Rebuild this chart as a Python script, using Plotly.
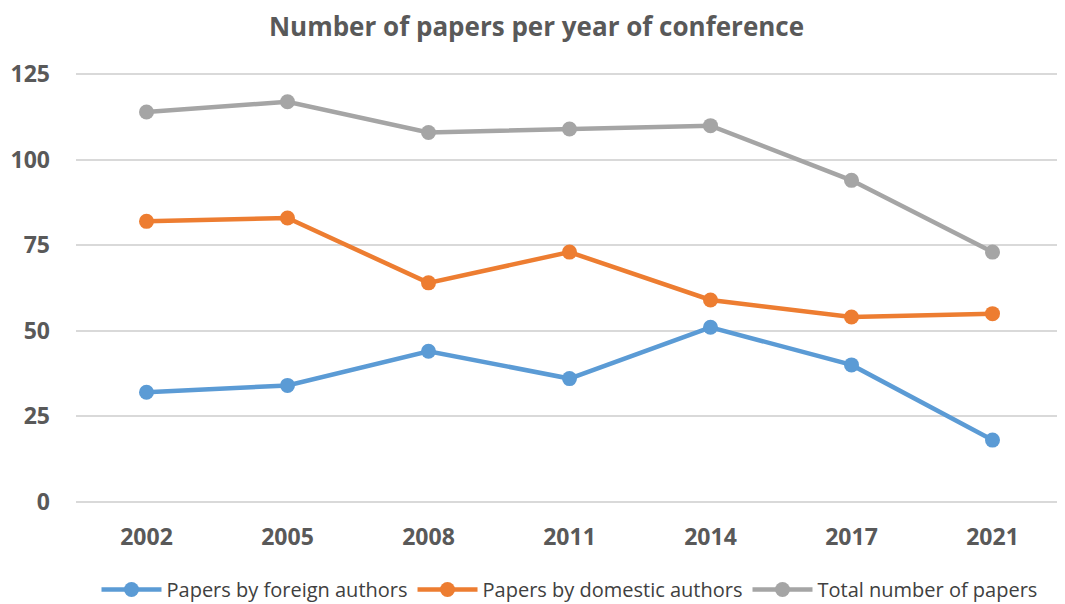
import plotly.graph_objects as go

years = ["2002", "2005", "2008", "2011", "2014", "2017", "2021"]
foreign = [32, 34, 44, 36, 51, 40, 18]
domestic = [82, 83, 64, 73, 59, 54, 55]
total = [114, 117, 108, 109, 110, 94, 73]

series = [
    ("Papers by foreign authors", foreign, "#5B9BD5"),
    ("Papers by domestic authors", domestic, "#ED7D31"),
    ("Total number of papers", total, "#A5A5A5"),
]

fig = go.Figure()
for name, vals, color in series:
    fig.add_trace(go.Scatter(
        x=years, y=vals, name=name, mode="lines+markers",
        line=dict(color=color, width=4.5),
        marker=dict(color=color, size=15),
    ))

# page has an 8px body margin; figure sized so it fits the 1065x604 window
fig.update_layout(
    width=1057, height=596,
    paper_bgcolor="white", plot_bgcolor="white",
    margin=dict(l=68, r=2, t=65, b=101, autoexpand=False),
    title=dict(text="<b>Number of papers per year of conference</b>", x=0.5, xanchor="center",
               y=0.968, yanchor="middle", automargin=False,
               font=dict(family="Open Sans", size=26, color="#595959")),
    font=dict(family="Open Sans", color="#595959"),
    xaxis=dict(type="category", range=[-0.5, 6.5], showgrid=False, showline=False,
               automargin=False,
               tickfont=dict(size=23, color="#595959", weight="bold"), ticks="",
               ticklabelstandoff=18),
    yaxis=dict(range=[-0.4, 125.4], tickvals=[0, 25, 50, 75, 100, 125], showgrid=True,
               automargin=False,
               gridcolor="#D9D9D9", gridwidth=1.5, zeroline=False, showline=False,
               tickfont=dict(size=23, color="#595959", weight="bold"),
               ticklabelstandoff=25),
    legend=dict(orientation="h", x=0.5, xanchor="center", y=-0.201, yanchor="middle",
                font=dict(size=20, color="#404040"), itemwidth=60),
    showlegend=True,
)

fig.write_html("out.html")
